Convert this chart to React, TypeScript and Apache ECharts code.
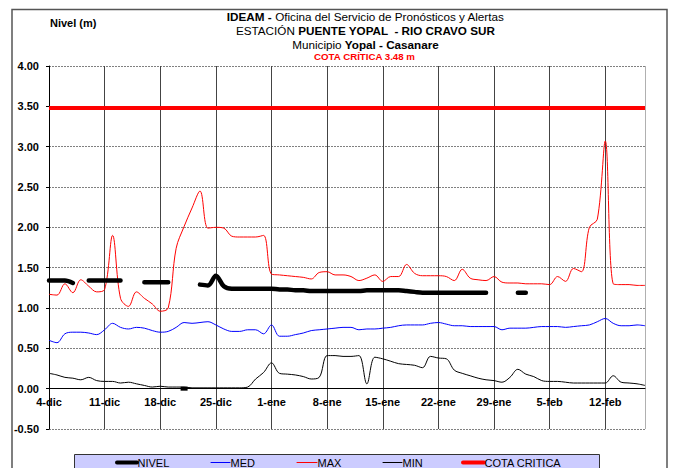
import React, { useEffect, useRef } from 'react';
import * as echarts from 'echarts';

// Ticks every 7 days starting 4-dic (day 0); axis ends 17-feb (day 75)
const X_TICK_LABELS = ['4-dic', '11-dic', '18-dic', '25-dic', '1-ene', '8-ene', '15-ene', '22-ene', '29-ene', '5-feb', '12-feb'];
const LAST_DAY = 75;
const COTA_CRITICA = 3.48;
const Y_MIN = -0.5;
const Y_MAX = 4;
const Y_STEP = 0.5;

// Daily values, day 0 = 4-dic
const NIVEL: (number | null)[] = [
  1.34, 1.34, 1.34, 1.31, null, 1.34, 1.34, 1.34, 1.34, 1.34,
  null, null, 1.32, 1.32, 1.32, 1.32, null, 0.0, null, 1.29,
  1.28, 1.40, 1.27, 1.24, 1.24, 1.24, 1.24, 1.24, 1.24, 1.23,
  1.23, 1.22, 1.22, 1.21, 1.21, 1.21, 1.21, 1.21, 1.21, 1.21,
  1.22, 1.22, 1.22, 1.22, 1.22, 1.21, 1.20, 1.19, 1.19, 1.19,
  1.19, 1.19, 1.19, 1.19, 1.19, 1.19, null, null, null, 1.19,
  1.19, null, null, null, null, null, null, null, null, null,
  null, null, null, null, null, null,
];

const MED: number[] = [
  0.60, 0.57, 0.68, 0.70, 0.70, 0.69, 0.67, 0.73, 0.81, 0.76,
  0.74, 0.76, 0.75, 0.72, 0.70, 0.71, 0.76, 0.82, 0.81, 0.82,
  0.83, 0.79, 0.74, 0.71, 0.71, 0.73, 0.73, 0.68, 0.79, 0.65,
  0.65, 0.67, 0.69, 0.72, 0.73, 0.74, 0.75, 0.76, 0.76, 0.73,
  0.74, 0.74, 0.75, 0.76, 0.78, 0.79, 0.79, 0.79, 0.81, 0.82,
  0.80, 0.78, 0.78, 0.77, 0.77, 0.77, 0.77, 0.73, 0.75, 0.75,
  0.75, 0.76, 0.77, 0.77, 0.77, 0.76, 0.77, 0.78, 0.79, 0.83,
  0.87, 0.81, 0.78, 0.78, 0.79, 0.78,
];

const MAX: number[] = [
  1.17, 1.16, 1.30, 1.19, 1.35, 1.27, 1.20, 1.23, 1.90, 1.12,
  1.02, 1.20, 1.12, 1.05, 0.96, 1.00, 1.74, 2.01, 2.24, 2.45,
  1.99, 2.00, 1.99, 1.89, 1.88, 1.88, 1.88, 1.90, 1.42, 1.41,
  1.40, 1.39, 1.38, 1.36, 1.44, 1.45, 1.41, 1.41, 1.39, 1.34,
  1.37, 1.41, 1.33, 1.39, 1.39, 1.54, 1.43, 1.40, 1.40, 1.40,
  1.39, 1.34, 1.48, 1.37, 1.35, 1.34, 1.39, 1.32, 1.31, 1.31,
  1.30, 1.30, 1.30, 1.29, 1.39, 1.33, 1.49, 1.45, 2.00, 2.10,
  3.07, 1.30, 1.29, 1.29, 1.28, 1.28,
];

const MIN: number[] = [
  0.19, 0.17, 0.14, 0.13, 0.11, 0.14, 0.10, 0.09, 0.09, 0.07,
  0.08, 0.06, 0.04, 0.02, 0.03, 0.02, 0.02, 0.02, 0.01, 0.01,
  0.01, 0.01, 0.01, 0.01, 0.01, 0.02, 0.12, 0.20, 0.32, 0.19,
  0.18, 0.17, 0.15, 0.12, 0.14, 0.41, 0.41, 0.40, 0.40, 0.41,
  0.06, 0.39, 0.37, 0.34, 0.31, 0.30, 0.29, 0.26, 0.40, 0.38,
  0.37, 0.23, 0.19, 0.16, 0.13, 0.11, 0.10, 0.08, 0.14, 0.24,
  0.18, 0.15, 0.10, 0.09, 0.09, 0.08, 0.07, 0.07, 0.07, 0.07,
  0.07, 0.16, 0.08, 0.07, 0.06, 0.04,
];

const SERIES_NAMES = ['NIVEL', 'MED', 'MAX', 'MIN', 'COTA CRITICA'];

const FONT = '"Liberation Sans", Arial, Helvetica, sans-serif';

export default function App() {
  const ref = useRef<HTMLDivElement>(null);

  useEffect(() => {
    if (!ref.current) return;
    const chart = echarts.init(ref.current, null, { renderer: 'svg' });

    const gridTop = 66;
    const gridBottom = 39;
    const plotH = 468 - gridTop - gridBottom;
    // place the category axis on the zero line (offset from the bottom edge)
    const zeroOffset = -(plotH * (0 - Y_MIN)) / (Y_MAX - Y_MIN);

    const pairs = (arr: (number | null)[]) => arr.map((v, i) => [i, v === null ? '-' : v]);
    const nivelData = NIVEL.map((v, i) => {
      const prev = i > 0 ? NIVEL[i - 1] : null;
      const next = i < NIVEL.length - 1 ? NIVEL[i + 1] : null;
      if (v !== null && prev === null && next === null) {
        return { value: [i, v], symbol: 'rect', symbolSize: [7, 4] };
      }
      return [i, v === null ? '-' : v];
    });
    const cotaData = MAX.map((_, i) => [i, COTA_CRITICA]);

    const styles = [
      { color: '#000000', width: 4.5 },
      { color: '#0000ff', width: 1 },
      { color: '#ff0000', width: 1 },
      { color: '#000000', width: 1 },
      { color: '#ff0000', width: 4 },
    ];

    // legend layout (manual, to mimic the spreadsheet legend)
    const legendX = [117, 211, 297, 383, 463];
    const legendLineW = [20, 19, 20, 19, 21];
    const legendItems: any[] = [];
    SERIES_NAMES.forEach((name, i) => {
      legendItems.push({
        type: 'line',
        shape: { x1: legendX[i], y1: 462.5, x2: legendX[i] + legendLineW[i], y2: 462.5 },
        style: { stroke: styles[i].color, lineWidth: styles[i].width === 1 ? 1 : 4, lineCap: 'round' },
      });
      legendItems.push({
        type: 'text',
        x: legendX[i] + legendLineW[i] + 0.5,
        y: 463,
        style: { text: name, fontSize: 11, fontFamily: FONT, fill: '#000', align: 'left', verticalAlign: 'middle' },
      });
    });

    const titleRich = {
      b: { fontWeight: 'bold', fontSize: 11.7, fontFamily: FONT, fill: '#000' },
      n: { fontWeight: 'normal', fontSize: 11.7, fontFamily: FONT, fill: '#000' },
    };

    chart.setOption({
      animation: false,
      backgroundColor: '#ffffff',
      grid: { left: 49, right: 31, top: gridTop, bottom: gridBottom, containLabel: false },
      xAxis: {
        type: 'value',
        min: 0,
        max: LAST_DAY,
        interval: 7,
        position: 'bottom',
        offset: zeroOffset,
        axisLine: { onZero: false, lineStyle: { color: '#000', width: 1 } },
        axisTick: { show: false },
        axisLabel: {
          margin: 8,
          fontSize: 11,
          fontWeight: 'bold',
          fontFamily: FONT,
          color: '#000',
          formatter: (v: number) => (v % 7 === 0 ? X_TICK_LABELS[Math.round(v / 7)] ?? '' : ''),
        },
        splitLine: {
          show: true,
          lineStyle: { color: X_TICK_LABELS.map(() => '#444').concat(['#b0b0b0']), width: 1, type: 'solid' },
        },
      },
      yAxis: {
        type: 'value',
        min: Y_MIN,
        max: Y_MAX,
        interval: Y_STEP,
        axisLine: { show: true, onZero: false, lineStyle: { color: '#000', width: 1 } },
        axisTick: { show: true, length: 3, lineStyle: { color: '#000' } },
        axisLabel: {
          margin: 10,
          fontSize: 11,
          fontWeight: 'bold',
          fontFamily: FONT,
          color: '#000',
          formatter: (v: number) => v.toFixed(2),
        },
        splitLine: { show: true, lineStyle: { color: '#808080', width: 1, type: [2, 1] } },
      },
      series: [
        {
          name: SERIES_NAMES[1], type: 'line', data: pairs(MED), smooth: 0.35, showSymbol: false,
          lineStyle: { color: styles[1].color, width: styles[1].width }, itemStyle: { color: styles[1].color }, z: 3,
        },
        {
          name: SERIES_NAMES[2], type: 'line', data: pairs(MAX), smooth: 0.35, showSymbol: false,
          lineStyle: { color: styles[2].color, width: styles[2].width }, itemStyle: { color: styles[2].color }, z: 3,
        },
        {
          name: SERIES_NAMES[3], type: 'line', data: pairs(MIN), smooth: 0.35, showSymbol: false,
          lineStyle: { color: styles[3].color, width: styles[3].width }, itemStyle: { color: styles[3].color }, z: 3,
        },
        {
          name: SERIES_NAMES[4], type: 'line', data: cotaData, showSymbol: false,
          lineStyle: { color: styles[4].color, width: styles[4].width }, itemStyle: { color: styles[4].color }, z: 4,
        },
        {
          name: SERIES_NAMES[0], type: 'line', data: nivelData, smooth: 0.35, showSymbol: true, symbol: 'none',
          connectNulls: false,
          lineStyle: { color: styles[0].color, width: styles[0].width, cap: 'round' }, itemStyle: { color: styles[0].color }, z: 5,
        },
      ],
      graphic: [
        {
          type: 'rect',
          shape: { x: 12, y: 9.5, width: 655, height: 480 },
          style: { fill: 'none', stroke: '#555', lineWidth: 1.5 },
          z: 0,
        },
        {
          type: 'text', x: 50, y: 22.5,
          style: { text: 'Nivel (m)', fontSize: 11, fontWeight: 'bold', fontFamily: FONT, fill: '#000', align: 'left', verticalAlign: 'middle' },
        },
        {
          type: 'text', x: 365.5, y: 16,
          style: { text: '{b|IDEAM -} {n|Oficina del Servicio de Pronósticos y Alertas}', rich: titleRich, fontSize: 11.7, fontFamily: FONT, align: 'center', verticalAlign: 'middle' },
        },
        {
          type: 'text', x: 365.5, y: 30,
          style: { text: '{n|ESTACIÓN} {b|PUENTE YOPAL  - RIO CRAVO SUR}', rich: titleRich, fontSize: 11.7, fontFamily: FONT, align: 'center', verticalAlign: 'middle' },
        },
        {
          type: 'text', x: 365.5, y: 44,
          style: { text: '{n|Municipio} {b|Yopal - Casanare}', rich: titleRich, fontSize: 11.7, fontFamily: FONT, align: 'center', verticalAlign: 'middle' },
        },
        {
          type: 'text', x: 364.5, y: 56.5,
          style: { text: 'COTA CRÍTICA 3.48 m', fontSize: 9.7, fontWeight: 'bold', fontFamily: FONT, fill: '#ff0000', align: 'center', verticalAlign: 'middle' },
        },
        {
          type: 'rect',
          shape: { x: 74.5, y: 454.5, width: 525, height: 30 },
          style: { fill: '#ccccff', stroke: '#333', lineWidth: 1 },
        },
        ...legendItems,
      ],
    });

    return () => chart.dispose();
  }, []);

  return <div ref={ref} style={{ position: 'fixed', left: 0, top: 0, width: 676, height: 468 }} />;
}
